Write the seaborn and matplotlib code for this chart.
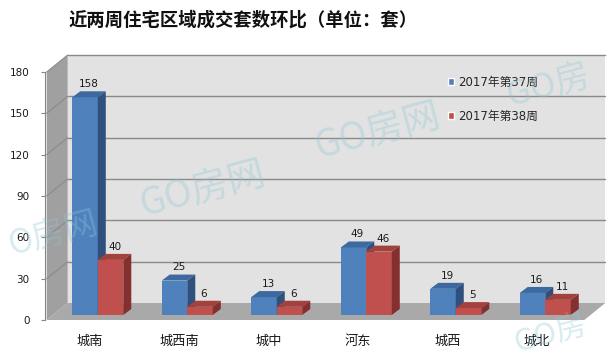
import pandas as pd
import matplotlib.pyplot as plt
import seaborn as sns
from matplotlib.patches import Polygon

# data
regions = ["城南", "城西南", "城中", "河东", "城西", "城北"]
week37 = [158, 25, 13, 49, 19, 16]
week38 = [40, 6, 6, 46, 5, 11]
weeks = ["2017年第37周", "2017年第38周"]
yticks = [0, 30, 60, 90, 120, 150, 180]

TITLE = "近两周住宅区域成交套数环比（单位：套）"

BLUE = ["#4f81bd", "#3d68a0", "#2f4f7c"]   # front, top, side
RED = ["#c0504d", "#a3413e", "#83302e"]

sns.set_theme(style="white")
plt.rcParams["font.family"] = ["DejaVu Sans", "Noto Sans CJK SC"]

df = pd.DataFrame({
    "区域": regions * 2,
    "套数": week37 + week38,
    "周": [weeks[0]] * len(regions) + [weeks[1]] * len(regions),
})

W, H = 611, 358
fig = plt.figure(figsize=(W / 100, H / 100), dpi=100)
fig.patch.set_facecolor("white")

# front plane of the 3d box, in pixels
left, right, bottom, top = 45, 582, 320, 72
ax = fig.add_axes([left / W, (H - bottom) / H, (right - left) / W, (bottom - top) / H])

step = 89.4
xl0 = (left - 88) / step
xl1 = (right - 88) / step
ax.set_xlim(xl0, xl1)
ax.set_ylim(0, 180)
ax.set_facecolor("none")

px_x = step
px_y = (bottom - top) / 180


def dxu(px):
    return px / px_x


def dyu(px):
    return px / px_y


DX, DY = dxu(21), dyu(17)      # wall depth
BX, BY = dxu(8), dyu(5)        # bar position inside the box
TX, TY = dxu(8), dyu(6)        # bar depth

# walls and floor
ax.add_patch(Polygon([(xl0 + DX, DY), (xl1 + DX, DY), (xl1 + DX, 180 + DY), (xl0 + DX, 180 + DY)],
                     closed=True, fc="#e2e2e2", ec="none", zorder=0.3, clip_on=False))
ax.add_patch(Polygon([(xl0, 0), (xl0 + DX, DY), (xl0 + DX, 180 + DY), (xl0, 180)],
                     closed=True, fc="#a0a0a0", ec="none", zorder=0.3, clip_on=False))
ax.add_patch(Polygon([(xl0, 0), (xl1, 0), (xl1 + DX, DY), (xl0 + DX, DY)],
                     closed=True, fc="#a9a9a9", ec="none", zorder=0.4, clip_on=False))
for v in yticks[1:]:
    ax.plot([xl0 + DX, xl1 + DX], [v + DY, v + DY], color="#8a8a8a", lw=1, zorder=0.6, clip_on=False)
    ax.plot([xl0, xl0 + DX], [v, v + DY], color="#8a8a8a", lw=0.8, zorder=0.6, clip_on=False)

sns.barplot(data=df, x="区域", y="套数", hue="周", palette=[BLUE[0], RED[0]],
            width=0.57, gap=0, saturation=1, ax=ax)

handles, labels = ax.get_legend_handles_labels()

for k, (cont, cols, vals) in enumerate(zip(ax.containers, [BLUE, RED], [week37, week38])):
    for i, (bar, val) in enumerate(zip(cont.patches, vals)):
        x0 = bar.get_x() + BX
        w = bar.get_width()
        bar.set_x(x0)
        bar.set_y(BY)
        bar.set_edgecolor("none")
        bar.set_clip_on(False)
        z = 3 + 0.2 * k
        bar.set_zorder(z)
        h = val + BY
        ax.add_patch(Polygon([(x0, h), (x0 + w, h), (x0 + w + TX, h + TY), (x0 + TX, h + TY)],
                             closed=True, fc=cols[1], ec="none", zorder=z + 0.1, clip_on=False))
        ax.add_patch(Polygon([(x0 + w, BY), (x0 + w + TX, BY + TY), (x0 + w + TX, h + TY), (x0 + w, h)],
                             closed=True, fc=cols[2], ec="none", zorder=z + 0.1, clip_on=False))
        ax.annotate(str(val), (x0 + (w + TX) / 2, h + TY), xytext=(0, 1.5),
                    textcoords="offset points", ha="center", va="bottom",
                    fontsize=7.5, color="#1a1a1a", zorder=5, annotation_clip=False)

for s in ["top", "right", "bottom"]:
    ax.spines[s].set_visible(False)
ax.spines["left"].set_color("#868686")
ax.spines["left"].set_linewidth(0.8)

ax.set_yticks(yticks)
ax.tick_params(axis="y", left=True, length=3, width=0.8, color="#868686", pad=8,
               labelsize=7.5, labelcolor="#1a1a1a")
ax.set_xticks(range(len(regions)))
ax.set_xticklabels(regions, fontsize=9.5, family="Noto Sans CJK SC", color="#1a1a1a")
ax.tick_params(axis="x", length=0, pad=11)
ax.set_xlabel("")
ax.set_ylabel("")
ax.grid(False)

ax.legend(handles, labels, loc="upper left", bbox_to_anchor=(442 / W, 1 - 70 / H),
          bbox_transform=fig.transFigure, frameon=False, borderpad=0,
          handlelength=0.55, handleheight=0.55, handletextpad=0.35, labelspacing=1.75,
          prop={"family": ["DejaVu Sans", "Noto Sans CJK SC"], "size": 8.5})

fig.text(243 / W, 1 - 20 / H, TITLE, ha="center", va="center", fontsize=13.2,
         fontweight="bold", family="Noto Sans CJK SC", color="#111111")

# watermarks (only the parts that show in the reference)
marks = [("GO房网", 203, 190, 27), ("GO房网", 378, 132, 27), ("O房网", 53, 234, 24),
         ("GO房", 548, 86, 25), ("GO房", 550, 334, 22)]
for txt, cx, cy, fs in marks:
    fig.text(cx / W, 1 - cy / H, txt, ha="center", va="center", rotation=15,
             fontsize=fs, family="Noto Sans CJK SC", color="#8cc7d6", alpha=0.35, zorder=10)

fig.savefig("out.png", dpi=100)
